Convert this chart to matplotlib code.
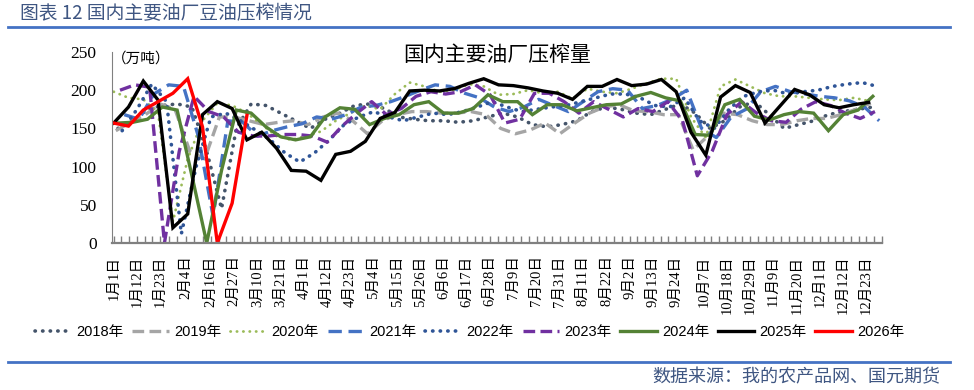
import numpy as np
import pandas as pd
import matplotlib
matplotlib.use('Agg')
import matplotlib.pyplot as plt
from matplotlib.lines import Line2D

plt.rcParams['font.family'] = ['Liberation Serif', 'Noto Sans CJK SC']

# ---- data (万吨), weekly ----
years = ['2018年', '2019年', '2020年', '2021年', '2022年', '2023年', '2024年', '2025年', '2026年']
start_dates = ['2018-01-03', '2019-01-02', '2020-01-01', '2021-01-06', '2022-01-05',
               '2023-01-04', '2024-01-03', '2025-01-01', '2026-01-01']

v2018 = [150, 160, 175, 180, 182, 178, 120, 45, 150, 182, 180, 170, 160, 150, 162, 170, 180, 182,
         176, 165, 162, 160, 160, 158, 160, 165, 170, 165, 155, 152, 155, 160, 172, 178, 175, 170,
         168, 175, 182, 170, 150, 160, 178, 185, 168, 150, 155, 160, 168, 172, 175, 178]
v2019 = [147, 158, 168, 182, 175, 120, 110, 165, 165, 160, 155, 158, 160, 155, 165, 170, 160, 143,
         160, 168, 172, 172, 170, 170, 172, 168, 150, 143, 148, 157, 143, 157, 170, 178, 181, 173,
         172, 168, 168, 122, 140, 170, 168, 160, 155, 155, 160, 163, 163, 168, 175, 183]
v2020 = [198, 190, 188, 170, 28, 110, 160, 183, 180, 170, 155, 140, 135, 140, 146, 160, 170, 180,
         175, 195, 210, 205, 198, 200, 208, 205, 194, 195, 200, 196, 198, 189, 202, 198, 196, 202,
         209, 215, 215, 165, 138, 205, 214, 205, 196, 192, 192, 190, 188, 187, 190, 186]
v2021 = [168, 162, 195, 207, 205, 140, 35, 160, 158, 140, 147, 152, 156, 165, 162, 168, 178, 180,
         185, 192, 200, 207, 205, 196, 190, 178, 172, 178, 188, 180, 172, 185, 198, 202, 200, 176,
         180, 188, 200, 150, 138, 165, 175, 198, 205, 198, 195, 192, 190, 186, 178, 160]
v2022 = [147, 175, 208, 185, 12, 100, 165, 170, 160, 148, 135, 118, 106, 118, 135, 155, 165, 172,
         165, 160, 165, 170, 168, 172, 178, 185, 178, 172, 175, 178, 180, 185, 190, 195, 195, 190,
         180, 178, 190, 160, 150, 175, 192, 198, 200, 195, 198, 200, 205, 208, 210, 205]
v2023 = [200, 207, 204, 0, 120, 192, 172, 165, 145, 140, 140, 142, 142, 140, 132, 153, 170, 185,
         168, 176, 192, 198, 195, 198, 207, 194, 157, 162, 196, 196, 185, 170, 185, 175, 165, 176,
         172, 185, 160, 88, 120, 168, 185, 170, 160, 158, 175, 185, 180, 170, 163, 172]
v2024 = [157, 158, 162, 178, 174, 88, 0, 95, 174, 170, 152, 139, 135, 139, 165, 177, 175, 155,
         163, 168, 181, 185, 170, 170, 176, 194, 185, 185, 168, 181, 181, 173, 177, 181, 182, 192,
         197, 190, 186, 142, 141, 181, 188, 166, 161, 168, 172, 170, 147, 168, 174, 192]
v2025 = [157, 178, 212, 187, 20, 38, 168, 185, 176, 135, 145, 124, 95, 94, 82, 116, 120, 133,
         163, 171, 199, 200, 199, 202, 209, 215, 207, 206, 203, 199, 196, 188, 205, 205, 214, 206,
         208, 214, 198, 145, 115, 191, 206, 197, 157, 179, 201, 194, 181, 177, 181, 184]
v2026 = [157, 153, 174, 185, 196, 215, 152, 0, 52, 167]
series = [v2018, v2019, v2020, v2021, v2022, v2023, v2024, v2025, v2026]

xlabels = ['1月1日', '1月12日', '1月23日', '2月4日', '2月16日', '2月27日', '3月10日', '3月21日',
           '4月1日', '4月12日', '4月23日', '5月4日', '5月15日', '5月26日', '6月6日', '6月17日',
           '6月28日', '7月9日', '7月20日', '7月31日', '8月11日', '8月22日', '9月2日', '9月13日',
           '9月24日', '10月7日', '10月18日', '10月29日', '11月9日', '11月20日', '12月1日',
           '12月12日', '12月23日']
yticks = [0, 50, 100, 150, 200, 250]

# ---- styles ----
styles = [
    dict(color='#44546A', ls=(0, (0.1, 2.0)), lw=2.6, dash_capstyle='round'),
    dict(color='#A5A5A5', ls=(0, (3.5, 1.6)), lw=2.4),
    dict(color='#9BBB59', ls=(0, (0.1, 2.2)), lw=2.0, dash_capstyle='round'),
    dict(color='#4472C4', ls=(0, (4, 2)), lw=2.4),
    dict(color='#2F5597', ls=(0, (0.1, 2.0)), lw=2.6, dash_capstyle='round'),
    dict(color='#7030A0', ls=(0, (3.5, 1.6)), lw=2.4),
    dict(color='#548235', ls='-', lw=2.4),
    dict(color='#000000', ls='-', lw=2.4),
    dict(color='#FF0000', ls='-', lw=2.4),
]


def day_of_year(s):
    m, d = s.replace('日', '').split('月')
    return (pd.Timestamp(2025, int(m), int(d)) - pd.Timestamp(2025, 1, 1)).days


fig = plt.figure(figsize=(9.74, 3.9), dpi=100)
ax = fig.add_axes([112 / 974, 1 - 243 / 390, 770 / 974, 191 / 390])

for vals, start, st in zip(series, start_dates, styles):
    d = pd.date_range(start, periods=len(vals), freq='7D')
    x = (d - pd.Timestamp(d[0].year, 1, 1)).days
    ax.plot(x, vals, color=st['color'], linestyle=st['ls'], linewidth=st['lw'],
            dash_capstyle=st.get('dash_capstyle', 'butt'), solid_joinstyle='miter')

xt = [day_of_year(s) for s in xlabels]
minor = []
for a, b in zip(xt[:-1], xt[1:]):
    minor += [a + (b - a) / 3, a + 2 * (b - a) / 3]
minor += [xt[-1] + 3.67, xt[-1] + 7.33]

ax.set_xlim(-0.8, minor[-1])
ax.set_ylim(0, 250)
ax.set_yticks(yticks)
ax.set_xticks(xt)
ax.set_xticklabels(xlabels, rotation=90, fontsize=10.5)
ax.set_xticks(minor, minor=True)
ax.tick_params(axis='x', which='both', direction='in', length=5, width=1, color='#808080', pad=9)
ax.tick_params(axis='y', length=0, labelsize=12.5, pad=11)

for s in ['top', 'right']:
    ax.spines[s].set_visible(False)
ax.spines['left'].set_color('#808080')
ax.spines['bottom'].set_color('#808080')
ax.spines['bottom'].set_linewidth(1.6)

ax.set_title('国内主要油厂压榨量', fontsize=15, family=['Noto Sans CJK SC'], pad=0, y=0.955)
ax.text(0.0, 0.965, '（万吨）', transform=ax.transAxes, fontsize=10.5, ha='left', va='center',
        family=['Noto Sans CJK SC'])

handles = [Line2D([], [], color=st['color'], linestyle=st['ls'], linewidth=st['lw'],
                  dash_capstyle=st.get('dash_capstyle', 'butt')) for st in styles]
fig.legend(handles, years, loc='center', bbox_to_anchor=(0.482, 0.149), ncol=9, frameon=False,
           handlelength=2.5, handletextpad=0.35, columnspacing=0.6,
           prop={'family': ['Liberation Sans', 'Noto Sans CJK SC'], 'size': 10.5})

# header and footer
fig.text(20 / 974, 1 - 14 / 390, '图表 12 国内主要油厂豆油压榨情况', fontsize=13.5, color='#3F5682',
         ha='left', va='center', family=['Noto Sans CJK SC'])
fig.add_artist(Line2D([8 / 974, 950 / 974], [1 - 27 / 390] * 2, color='#4472C4', linewidth=2))
fig.add_artist(Line2D([8 / 974, 950 / 974], [1 - 362 / 390] * 2, color='#4472C4', linewidth=2))
fig.text(940 / 974, 1 - 377 / 390, '数据来源：我的农产品网、国元期货', fontsize=13, color='#3F5682',
         ha='right', va='center', family=['Noto Sans CJK SC'])

fig.savefig('out.png', dpi=100)
